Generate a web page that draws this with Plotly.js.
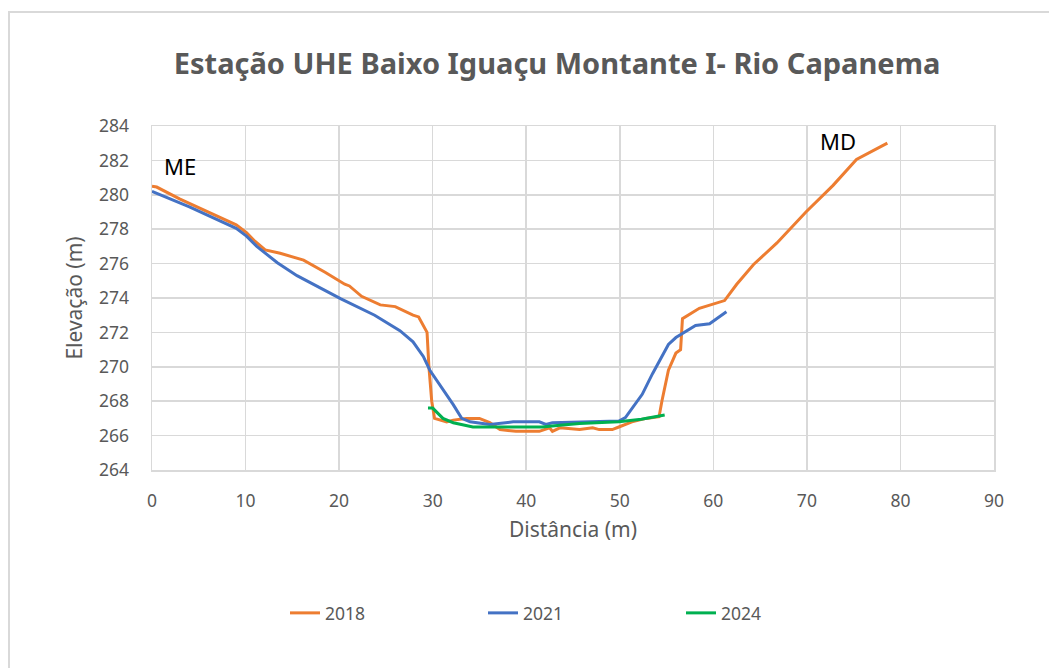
<!DOCTYPE html>
<html>
<head>
<meta charset="utf-8">
<script src="https://cdn.plot.ly/plotly-3.0.1.min.js"></script>
<style>
html,body{margin:0;padding:0;background:#fff;}
#frame{position:absolute;left:8px;top:11px;width:1100px;height:700px;border-top:2px solid #d9d9d9;border-left:2px solid #d9d9d9;pointer-events:none;}
#chart{position:absolute;left:0;top:0;width:1049px;height:668px;}
</style>
</head>
<body>
<div id="frame"></div>
<div id="chart"></div>
<script>
// 2018 survey
const x2018 = [0, 0.5, 3, 6, 9, 10.1, 11.0, 12.1, 13.7, 16.2, 18.5, 20.6, 21.1, 22.4, 24.4, 26.0, 27.9, 28.5, 28.9, 29.4, 29.6, 29.7, 29.9, 30.2, 30.8, 31.5, 32.2, 33.6, 35.0, 36.1, 37.2, 38.9, 41.4, 42.5, 42.8, 43.6, 45.7, 47.1, 47.8, 49.2, 49.9, 51.3, 52.8, 54.2, 54.5, 55.2, 56.0, 56.5, 56.7, 58.5, 61.2, 62.5, 64.3, 66.8, 69.9, 72.8, 75.3, 76.3, 78.6];
const y2018 = [280.5, 280.45, 279.75, 279.0, 278.25, 277.8, 277.3, 276.8, 276.6, 276.2, 275.5, 274.8, 274.7, 274.1, 273.6, 273.5, 273.0, 272.9, 272.5, 272.0, 270.0, 269.4, 268.0, 267.0, 266.9, 266.8, 266.9, 267.0, 267.0, 266.75, 266.35, 266.25, 266.25, 266.45, 266.25, 266.45, 266.35, 266.45, 266.35, 266.35, 266.5, 266.8, 267.0, 267.1, 268.0, 269.8, 270.8, 271.0, 272.8, 273.4, 273.85, 274.8, 275.95, 277.2, 279.0, 280.55, 282.05, 282.35, 283.0];
// 2021 survey
const x2021 = [0, 4.0, 9.0, 10.1, 11.2, 13.4, 15.5, 20.2, 23.8, 26.5, 27.9, 29.0, 29.7, 31.1, 32.2, 33.1, 34.0, 36.1, 38.6, 41.4, 42.1, 42.8, 49.9, 50.6, 52.4, 53.5, 54.5, 55.2, 56.0, 58.1, 59.6, 61.4];
const y2021 = [280.2, 279.3, 278.05, 277.6, 277.0, 276.05, 275.3, 273.95, 273.0, 272.1, 271.45, 270.6, 269.8, 268.7, 267.8, 267.0, 266.8, 266.65, 266.8, 266.8, 266.65, 266.75, 266.85, 267.05, 268.4, 269.6, 270.6, 271.3, 271.7, 272.4, 272.5, 273.2];
// 2024 survey
const x2024 = [29.5, 30.0, 31.1, 32.2, 34.3, 41.7, 43.6, 45.7, 49.9, 52.3, 54.8];
const y2024 = [267.6, 267.6, 267.0, 266.75, 266.5, 266.5, 266.6, 266.7, 266.8, 266.95, 267.2];

const seriesNames = ['2018', '2021', '2024'];
const xTicks = [0, 10, 20, 30, 40, 50, 60, 70, 80, 90];
const yTicks = [264, 266, 268, 270, 272, 274, 276, 278, 280, 282, 284];
const bankLabels = ['ME', 'MD'];
const bankX = [3.0, 73.3];
const bankY = [281.7, 283.1];

const font = 'Noto Sans, Open Sans, sans-serif';
const grey = '#595959';

const traces = [
  {x: x2018, y: y2018, name: seriesNames[0], mode: 'lines', line: {color: '#ED7D31', width: 3}},
  {x: x2021, y: y2021, name: seriesNames[1], mode: 'lines', line: {color: '#4472C4', width: 3}},
  {x: x2024, y: y2024, name: seriesNames[2], mode: 'lines', line: {color: '#00B050', width: 3}}
];

const axisCommon = {
  showgrid: true, gridcolor: '#d9d9d9', gridwidth: 1.5,
  zeroline: false, showline: true, linecolor: '#d9d9d9', linewidth: 1.5, mirror: true,
  ticks: 'outside', tickcolor: 'rgba(0,0,0,0)',
  tickfont: {family: font, size: 17.5, color: grey},
  fixedrange: true
};

const layout = {
  width: 1049, height: 668,
  paper_bgcolor: 'rgba(0,0,0,0)', plot_bgcolor: 'rgba(0,0,0,0)',
  margin: {l: 152, r: 55, t: 126, b: 198},
  title: {text: 'Estação UHE Baixo Iguaçu Montante I- Rio Capanema',
          font: {family: font, size: 29, color: grey, weight: 'bold'},
          xref: 'container', x: 0.531, xanchor: 'center', yref: 'container', y: 1 - 64/668, yanchor: 'middle'},
  xaxis: Object.assign({}, axisCommon, {
    range: [0, 90], tickvals: xTicks, ticktext: xTicks.map(String), ticklen: 14,
    title: {text: 'Distância (m)', font: {family: font, size: 21, color: grey}, standoff: 12}
  }),
  yaxis: Object.assign({}, axisCommon, {
    range: [264, 284], tickvals: yTicks, ticktext: yTicks.map(String), ticklen: 18,
    title: {text: 'Elevação (m)', font: {family: font, size: 21, color: grey}, standoff: 10}
  }),
  showlegend: true,
  legend: {orientation: 'h', xref: 'container', yref: 'container', x: 285/1049, xanchor: 'left',
           y: 1 - 613/668, yanchor: 'middle', entrywidth: 153, entrywidthmode: 'pixels',
           font: {family: font, size: 17.5, color: grey}, bgcolor: 'rgba(0,0,0,0)'},
  annotations: bankLabels.map((t, i) => ({
    x: bankX[i], y: bankY[i], xref: 'x', yref: 'y', text: t, showarrow: false,
    font: {family: font, size: 22, color: '#000000'}
  }))
};

Plotly.newPlot('chart', traces, layout, {displayModeBar: false, staticPlot: true});
</script>
</body>
</html>
